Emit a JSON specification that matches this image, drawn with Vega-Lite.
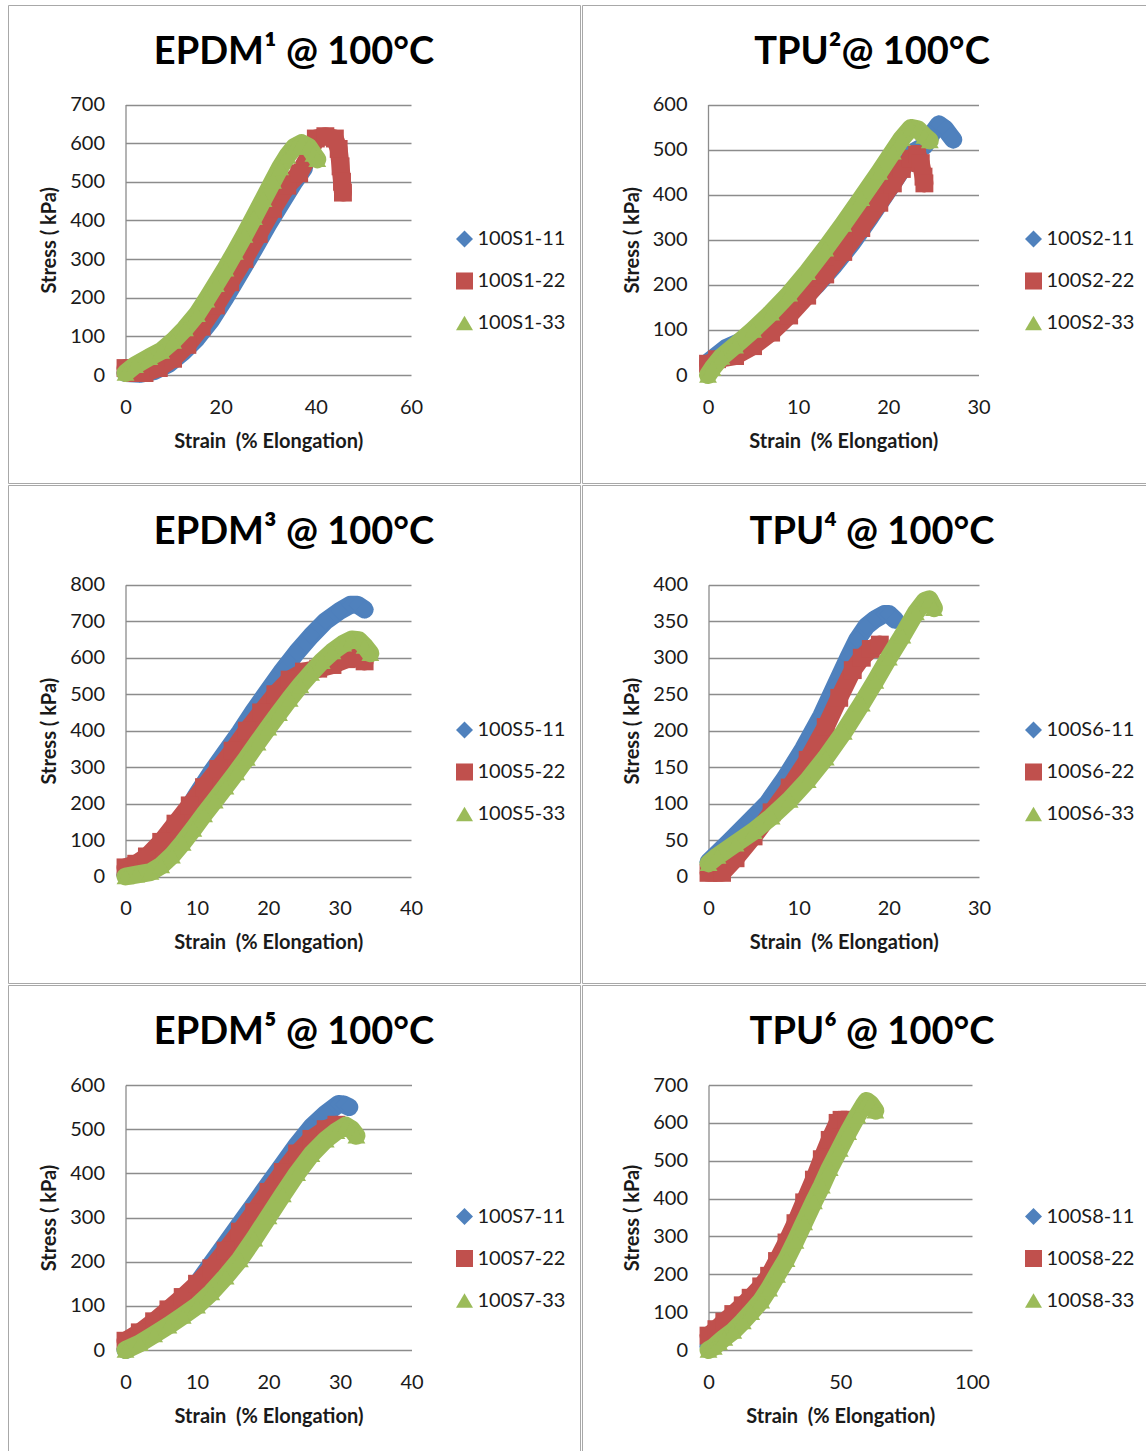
{
"$schema": "https://vega.github.io/schema/vega-lite/v6.json",
"background": "white",
"padding": {"left": 7, "top": 4, "right": 0, "bottom": 0},
"columns": 2,
"spacing": 0,
"align": "each",
"resolve": {"scale": {"x": "independent", "y": "independent", "color": "independent", "shape": "independent"}, "legend": {"color": "independent", "shape": "independent"}},
"config": {
  "view": {"stroke": "#a8a8a8", "strokeWidth": 1},
  "font": "Lato, 'Noto Sans'",
  "axis": {"labelFont": "Lato, 'Noto Sans'", "labelFontSize": 20, "labelColor": "#1a1a1a", "titleFont": "Lato, 'Noto Sans'", "titleFontSize": 20, "titleFontWeight": "bold", "titleColor": "#1a1a1a", "domainColor": "#8c8c8c", "domainWidth": 1.3, "gridColor": "#8c8c8c", "gridWidth": 1.3, "gridOpacity": 1, "ticks": false, "labelFlush": false, "labelOverlap": false, "labelBound": false},
  "axisX": {"domain": false, "grid": false, "labelPadding": 22, "titlePadding": 14},
  "axisY": {"domain": true, "grid": true, "labelPadding": 21, "titlePadding": 10},
  "title": {"font": "Lato, 'Noto Sans'", "fontSize": 38, "fontWeight": "bold", "color": "#000000", "anchor": "middle", "offset": -67, "baseline": "alphabetic"},
  "legend": {"labelFont": "Lato, 'Noto Sans'", "labelFontSize": 20, "labelColor": "#1a1a1a", "symbolSize": 290, "symbolStrokeWidth": 0, "symbolOpacity": 1, "rowPadding": 22, "labelOffset": 3, "padding": 0},
  "point": {"filled": true, "opacity": 1, "size": 320, "strokeWidth": 0},
  "line": {"strokeWidth": 18, "strokeCap": "round", "strokeJoin": "round"}
},
"concat": [
{
  "width": 572, "height": 478,
  "title": {"text": "EPDM¹ @ 100°C"},
  "data": {"values": [
    {"s":"100S1-11","x":0,"y":5},{"s":"100S1-11","x":3,"y":3},{"s":"100S1-11","x":6,"y":10},{"s":"100S1-11","x":9,"y":28},{"s":"100S1-11","x":12,"y":58},{"s":"100S1-11","x":15,"y":95},{"s":"100S1-11","x":18,"y":142},{"s":"100S1-11","x":21,"y":200},{"s":"100S1-11","x":24,"y":262},{"s":"100S1-11","x":27,"y":325},{"s":"100S1-11","x":30,"y":390},{"s":"100S1-11","x":33,"y":450},{"s":"100S1-11","x":35.5,"y":500},{"s":"100S1-11","x":37.5,"y":535},
    {"s":"100S1-22","x":0,"y":18},{"s":"100S1-22","x":1.5,"y":5},{"s":"100S1-22","x":4,"y":5},{"s":"100S1-22","x":7,"y":18},{"s":"100S1-22","x":10,"y":42},{"s":"100S1-22","x":13,"y":78},{"s":"100S1-22","x":16,"y":125},{"s":"100S1-22","x":19,"y":180},{"s":"100S1-22","x":22,"y":240},{"s":"100S1-22","x":25,"y":300},{"s":"100S1-22","x":28,"y":365},{"s":"100S1-22","x":31,"y":430},{"s":"100S1-22","x":34,"y":490},{"s":"100S1-22","x":36.5,"y":522},{"s":"100S1-22","x":38.5,"y":566},{"s":"100S1-22","x":40,"y":612},{"s":"100S1-22","x":42,"y":618},{"s":"100S1-22","x":44,"y":612},{"s":"100S1-22","x":44.8,"y":585},{"s":"100S1-22","x":45.2,"y":540},{"s":"100S1-22","x":45.5,"y":500},{"s":"100S1-22","x":45.7,"y":472},
    {"s":"100S1-33","x":0,"y":5},{"s":"100S1-33","x":2,"y":25},{"s":"100S1-33","x":5,"y":46},{"s":"100S1-33","x":7.5,"y":62},{"s":"100S1-33","x":10,"y":88},{"s":"100S1-33","x":12.5,"y":120},{"s":"100S1-33","x":15,"y":157},{"s":"100S1-33","x":17,"y":195},{"s":"100S1-33","x":19,"y":235},{"s":"100S1-33","x":21,"y":275},{"s":"100S1-33","x":23,"y":318},{"s":"100S1-33","x":25,"y":362},{"s":"100S1-33","x":27,"y":408},{"s":"100S1-33","x":29,"y":455},{"s":"100S1-33","x":31,"y":502},{"s":"100S1-33","x":32.5,"y":537},{"s":"100S1-33","x":34,"y":567},{"s":"100S1-33","x":35.5,"y":590},{"s":"100S1-33","x":37,"y":600},{"s":"100S1-33","x":38.5,"y":590},{"s":"100S1-33","x":39.5,"y":572},{"s":"100S1-33","x":40.3,"y":558}
  ]},
  "encoding": {
    "x": {"field": "x", "type": "quantitative", "scale": {"domain": [0, 60], "range": [117.5, 403], "nice": false, "zero": false}, "axis": {"values": [0, 20, 40, 60], "offset": -108, "title": "Strain \u00a0(% Elongation)"}},
    "y": {"field": "y", "type": "quantitative", "scale": {"domain": [0, 700], "range": [370, 99.5], "nice": false, "zero": false}, "axis": {"values": [0, 100, 200, 300, 400, 500, 600, 700], "offset": -117.5, "title": "Stress ( kPa)"}}
  },
  "layer": [
    {"transform": [{"filter": "datum.s === '100S1-11'"}], "mark": {"type": "line", "color": "#4F81BD"}, "encoding": {}},
    {"transform": [{"filter": "datum.s === '100S1-11'"}], "mark": "point", "encoding": {"color": {"field": "s", "type": "nominal", "scale": {"domain": ["100S1-11", "100S1-22", "100S1-33"], "range": ["#4F81BD", "#C0504D", "#9BBB59"]}, "legend": {"orient": "none", "title": null, "legendX": 446.5, "legendY": 224}}, "shape": {"field": "s", "type": "nominal", "scale": {"domain": ["100S1-11", "100S1-22", "100S1-33"], "range": ["diamond", "square", "triangle-up"]}, "legend": {"orient": "none", "title": null, "legendX": 446.5, "legendY": 224}}}},
    {"transform": [{"filter": "datum.s === '100S1-22'"}], "mark": {"type": "line", "color": "#C0504D"}, "encoding": {}},
    {"transform": [{"filter": "datum.s === '100S1-22'"}], "mark": "point", "encoding": {"color": {"field": "s", "type": "nominal"}, "shape": {"field": "s", "type": "nominal"}}},
    {"transform": [{"filter": "datum.s === '100S1-33'"}], "mark": {"type": "line", "color": "#9BBB59"}, "encoding": {}},
    {"transform": [{"filter": "datum.s === '100S1-33'"}], "mark": "point", "encoding": {"color": {"field": "s", "type": "nominal"}, "shape": {"field": "s", "type": "nominal"}}}
  ]
},
{
  "width": 564, "height": 478,
  "title": {"text": "TPU²@ 100°C", "dx": 8},
  "data": {"values": [
    {"s":"100S2-11","x":0,"y":28},{"s":"100S2-11","x":2,"y":60},{"s":"100S2-11","x":4,"y":78},{"s":"100S2-11","x":6,"y":100},{"s":"100S2-11","x":8,"y":125},{"s":"100S2-11","x":10,"y":158},{"s":"100S2-11","x":12,"y":198},{"s":"100S2-11","x":14,"y":243},{"s":"100S2-11","x":16,"y":293},{"s":"100S2-11","x":18,"y":350},{"s":"100S2-11","x":20,"y":410},{"s":"100S2-11","x":21.5,"y":455},{"s":"100S2-11","x":22.8,"y":495},{"s":"100S2-11","x":24,"y":508},{"s":"100S2-11","x":25,"y":540},{"s":"100S2-11","x":25.6,"y":556},{"s":"100S2-11","x":26.3,"y":546},{"s":"100S2-11","x":26.9,"y":530},{"s":"100S2-11","x":27.2,"y":522},
    {"s":"100S2-22","x":0,"y":25},{"s":"100S2-22","x":1,"y":35},{"s":"100S2-22","x":3,"y":42},{"s":"100S2-22","x":5,"y":64},{"s":"100S2-22","x":7,"y":94},{"s":"100S2-22","x":9,"y":132},{"s":"100S2-22","x":11,"y":176},{"s":"100S2-22","x":13,"y":223},{"s":"100S2-22","x":15,"y":273},{"s":"100S2-22","x":17,"y":326},{"s":"100S2-22","x":19,"y":382},{"s":"100S2-22","x":20.5,"y":425},{"s":"100S2-22","x":21.5,"y":457},{"s":"100S2-22","x":22.5,"y":480},{"s":"100S2-22","x":23.2,"y":490},{"s":"100S2-22","x":23.6,"y":470},{"s":"100S2-22","x":23.9,"y":440},{"s":"100S2-22","x":24,"y":425},
    {"s":"100S2-33","x":0,"y":0},{"s":"100S2-33","x":0.5,"y":15},{"s":"100S2-33","x":1.5,"y":40},{"s":"100S2-33","x":3,"y":65},{"s":"100S2-33","x":5,"y":100},{"s":"100S2-33","x":7,"y":138},{"s":"100S2-33","x":9,"y":180},{"s":"100S2-33","x":11,"y":228},{"s":"100S2-33","x":13,"y":280},{"s":"100S2-33","x":15,"y":335},{"s":"100S2-33","x":17,"y":392},{"s":"100S2-33","x":19,"y":450},{"s":"100S2-33","x":20.5,"y":495},{"s":"100S2-33","x":21.5,"y":525},{"s":"100S2-33","x":22.5,"y":548},{"s":"100S2-33","x":23.3,"y":545},{"s":"100S2-33","x":24,"y":530},{"s":"100S2-33","x":24.6,"y":520}
  ]},
  "encoding": {
    "x": {"field": "x", "type": "quantitative", "scale": {"domain": [0, 30], "range": [126, 396.5], "nice": false, "zero": false}, "axis": {"values": [0, 10, 20, 30], "offset": -108, "title": "Strain \u00a0(% Elongation)"}},
    "y": {"field": "y", "type": "quantitative", "scale": {"domain": [0, 600], "range": [370, 99.5], "nice": false, "zero": false}, "axis": {"values": [0, 100, 200, 300, 400, 500, 600], "offset": -126, "title": "Stress ( kPa)"}}
  },
  "layer": [
    {"transform": [{"filter": "datum.s === '100S2-11'"}], "mark": {"type": "line", "color": "#4F81BD"}, "encoding": {}},
    {"transform": [{"filter": "datum.s === '100S2-11'"}], "mark": "point", "encoding": {"color": {"field": "s", "type": "nominal", "scale": {"domain": ["100S2-11", "100S2-22", "100S2-33"], "range": ["#4F81BD", "#C0504D", "#9BBB59"]}, "legend": {"orient": "none", "title": null, "legendX": 441.5, "legendY": 224}}, "shape": {"field": "s", "type": "nominal", "scale": {"domain": ["100S2-11", "100S2-22", "100S2-33"], "range": ["diamond", "square", "triangle-up"]}, "legend": {"orient": "none", "title": null, "legendX": 441.5, "legendY": 224}}}},
    {"transform": [{"filter": "datum.s === '100S2-22'"}], "mark": {"type": "line", "color": "#C0504D"}, "encoding": {}},
    {"transform": [{"filter": "datum.s === '100S2-22'"}], "mark": "point", "encoding": {"color": {"field": "s", "type": "nominal"}, "shape": {"field": "s", "type": "nominal"}}},
    {"transform": [{"filter": "datum.s === '100S2-33'"}], "mark": {"type": "line", "color": "#9BBB59"}, "encoding": {}},
    {"transform": [{"filter": "datum.s === '100S2-33'"}], "mark": "point", "encoding": {"color": {"field": "s", "type": "nominal"}, "shape": {"field": "s", "type": "nominal"}}}
  ]
},
{
  "width": 572, "height": 498,
  "title": {"text": "EPDM³ @ 100°C"},
  "data": {"values": [
    {"s":"100S5-11","x":0,"y":5},{"s":"100S5-11","x":2,"y":15},{"s":"100S5-11","x":4,"y":40},{"s":"100S5-11","x":6,"y":95},{"s":"100S5-11","x":8,"y":160},{"s":"100S5-11","x":10,"y":225},{"s":"100S5-11","x":12,"y":285},{"s":"100S5-11","x":14,"y":340},{"s":"100S5-11","x":16,"y":395},{"s":"100S5-11","x":18,"y":455},{"s":"100S5-11","x":20,"y":510},{"s":"100S5-11","x":22,"y":565},{"s":"100S5-11","x":24,"y":615},{"s":"100S5-11","x":26,"y":660},{"s":"100S5-11","x":28,"y":700},{"s":"100S5-11","x":30,"y":728},{"s":"100S5-11","x":31.5,"y":745},{"s":"100S5-11","x":32.5,"y":745},{"s":"100S5-11","x":33.5,"y":732},
    {"s":"100S5-22","x":0,"y":25},{"s":"100S5-22","x":1.5,"y":35},{"s":"100S5-22","x":3,"y":55},{"s":"100S5-22","x":5,"y":95},{"s":"100S5-22","x":7,"y":145},{"s":"100S5-22","x":9,"y":195},{"s":"100S5-22","x":11,"y":245},{"s":"100S5-22","x":13,"y":295},{"s":"100S5-22","x":15,"y":345},{"s":"100S5-22","x":17,"y":400},{"s":"100S5-22","x":19,"y":450},{"s":"100S5-22","x":21,"y":500},{"s":"100S5-22","x":23,"y":540},{"s":"100S5-22","x":25,"y":562},{"s":"100S5-22","x":27,"y":570},{"s":"100S5-22","x":29,"y":580},{"s":"100S5-22","x":31,"y":596},{"s":"100S5-22","x":32.5,"y":600},{"s":"100S5-22","x":33.5,"y":590},
    {"s":"100S5-33","x":0,"y":0},{"s":"100S5-33","x":1.5,"y":5},{"s":"100S5-33","x":3.5,"y":12},{"s":"100S5-33","x":5,"y":30},{"s":"100S5-33","x":6.5,"y":57},{"s":"100S5-33","x":8,"y":92},{"s":"100S5-33","x":9.5,"y":130},{"s":"100S5-33","x":11,"y":170},{"s":"100S5-33","x":12.5,"y":208},{"s":"100S5-33","x":14,"y":246},{"s":"100S5-33","x":15.5,"y":285},{"s":"100S5-33","x":17,"y":325},{"s":"100S5-33","x":18.5,"y":367},{"s":"100S5-33","x":20,"y":408},{"s":"100S5-33","x":21.5,"y":448},{"s":"100S5-33","x":23,"y":487},{"s":"100S5-33","x":24.5,"y":524},{"s":"100S5-33","x":26,"y":558},{"s":"100S5-33","x":27.5,"y":590},{"s":"100S5-33","x":29,"y":617},{"s":"100S5-33","x":30.5,"y":638},{"s":"100S5-33","x":31.7,"y":650},{"s":"100S5-33","x":32.7,"y":648},{"s":"100S5-33","x":33.5,"y":632},{"s":"100S5-33","x":34.3,"y":612}
  ]},
  "encoding": {
    "x": {"field": "x", "type": "quantitative", "scale": {"domain": [0, 40], "range": [117.5, 403], "nice": false, "zero": false}, "axis": {"values": [0, 10, 20, 30, 40], "offset": -106.5, "title": "Strain \u00a0(% Elongation)"}},
    "y": {"field": "y", "type": "quantitative", "scale": {"domain": [0, 800], "range": [391.5, 99.8], "nice": false, "zero": false}, "axis": {"values": [0, 100, 200, 300, 400, 500, 600, 700, 800], "offset": -117.5, "title": "Stress ( kPa)"}}
  },
  "layer": [
    {"transform": [{"filter": "datum.s === '100S5-11'"}], "mark": {"type": "line", "color": "#4F81BD"}, "encoding": {}},
    {"transform": [{"filter": "datum.s === '100S5-11'"}], "mark": "point", "encoding": {"color": {"field": "s", "type": "nominal", "scale": {"domain": ["100S5-11", "100S5-22", "100S5-33"], "range": ["#4F81BD", "#C0504D", "#9BBB59"]}, "legend": {"orient": "none", "title": null, "legendX": 446.5, "legendY": 235}}, "shape": {"field": "s", "type": "nominal", "scale": {"domain": ["100S5-11", "100S5-22", "100S5-33"], "range": ["diamond", "square", "triangle-up"]}, "legend": {"orient": "none", "title": null, "legendX": 446.5, "legendY": 235}}}},
    {"transform": [{"filter": "datum.s === '100S5-22'"}], "mark": {"type": "line", "color": "#C0504D"}, "encoding": {}},
    {"transform": [{"filter": "datum.s === '100S5-22'"}], "mark": "point", "encoding": {"color": {"field": "s", "type": "nominal"}, "shape": {"field": "s", "type": "nominal"}}},
    {"transform": [{"filter": "datum.s === '100S5-33'"}], "mark": {"type": "line", "color": "#9BBB59"}, "encoding": {}},
    {"transform": [{"filter": "datum.s === '100S5-33'"}], "mark": "point", "encoding": {"color": {"field": "s", "type": "nominal"}, "shape": {"field": "s", "type": "nominal"}}}
  ]
},
{
  "width": 564, "height": 498,
  "title": {"text": "TPU⁴ @ 100°C", "dx": 8},
  "data": {"values": [
    {"s":"100S6-11","x":0,"y":20},{"s":"100S6-11","x":1,"y":32},{"s":"100S6-11","x":2.5,"y":50},{"s":"100S6-11","x":4.5,"y":75},{"s":"100S6-11","x":6.5,"y":100},{"s":"100S6-11","x":8.5,"y":135},{"s":"100S6-11","x":10.5,"y":175},{"s":"100S6-11","x":12.5,"y":220},{"s":"100S6-11","x":14,"y":260},{"s":"100S6-11","x":15.5,"y":300},{"s":"100S6-11","x":16.5,"y":325},{"s":"100S6-11","x":17.5,"y":343},{"s":"100S6-11","x":18.5,"y":353},{"s":"100S6-11","x":19.5,"y":360},{"s":"100S6-11","x":20,"y":360},{"s":"100S6-11","x":20.7,"y":352},
    {"s":"100S6-22","x":0,"y":5},{"s":"100S6-22","x":1.5,"y":5},{"s":"100S6-22","x":3,"y":25},{"s":"100S6-22","x":5,"y":55},{"s":"100S6-22","x":7,"y":88},{"s":"100S6-22","x":9,"y":122},{"s":"100S6-22","x":11,"y":160},{"s":"100S6-22","x":13,"y":205},{"s":"100S6-22","x":14.5,"y":245},{"s":"100S6-22","x":16,"y":283},{"s":"100S6-22","x":17,"y":300},{"s":"100S6-22","x":18,"y":312},{"s":"100S6-22","x":19,"y":318},
    {"s":"100S6-33","x":0,"y":18},{"s":"100S6-33","x":1,"y":28},{"s":"100S6-33","x":3,"y":45},{"s":"100S6-33","x":5,"y":62},{"s":"100S6-33","x":7,"y":82},{"s":"100S6-33","x":9,"y":105},{"s":"100S6-33","x":11,"y":132},{"s":"100S6-33","x":13,"y":163},{"s":"100S6-33","x":15,"y":198},{"s":"100S6-33","x":17,"y":237},{"s":"100S6-33","x":18.5,"y":268},{"s":"100S6-33","x":20,"y":300},{"s":"100S6-33","x":21.5,"y":330},{"s":"100S6-33","x":23,"y":362},{"s":"100S6-33","x":24,"y":378},{"s":"100S6-33","x":24.5,"y":380},{"s":"100S6-33","x":25,"y":368}
  ]},
  "encoding": {
    "x": {"field": "x", "type": "quantitative", "scale": {"domain": [0, 30], "range": [126.5, 397], "nice": false, "zero": false}, "axis": {"values": [0, 10, 20, 30], "offset": -106.5, "title": "Strain \u00a0(% Elongation)"}},
    "y": {"field": "y", "type": "quantitative", "scale": {"domain": [0, 400], "range": [391.5, 99.8], "nice": false, "zero": false}, "axis": {"values": [0, 50, 100, 150, 200, 250, 300, 350, 400], "offset": -126.5, "title": "Stress ( kPa)"}}
  },
  "layer": [
    {"transform": [{"filter": "datum.s === '100S6-11'"}], "mark": {"type": "line", "color": "#4F81BD"}, "encoding": {}},
    {"transform": [{"filter": "datum.s === '100S6-11'"}], "mark": "point", "encoding": {"color": {"field": "s", "type": "nominal", "scale": {"domain": ["100S6-11", "100S6-22", "100S6-33"], "range": ["#4F81BD", "#C0504D", "#9BBB59"]}, "legend": {"orient": "none", "title": null, "legendX": 441.5, "legendY": 235}}, "shape": {"field": "s", "type": "nominal", "scale": {"domain": ["100S6-11", "100S6-22", "100S6-33"], "range": ["diamond", "square", "triangle-up"]}, "legend": {"orient": "none", "title": null, "legendX": 441.5, "legendY": 235}}}},
    {"transform": [{"filter": "datum.s === '100S6-22'"}], "mark": {"type": "line", "color": "#C0504D"}, "encoding": {}},
    {"transform": [{"filter": "datum.s === '100S6-22'"}], "mark": "point", "encoding": {"color": {"field": "s", "type": "nominal"}, "shape": {"field": "s", "type": "nominal"}}},
    {"transform": [{"filter": "datum.s === '100S6-33'"}], "mark": {"type": "line", "color": "#9BBB59"}, "encoding": {}},
    {"transform": [{"filter": "datum.s === '100S6-33'"}], "mark": "point", "encoding": {"color": {"field": "s", "type": "nominal"}, "shape": {"field": "s", "type": "nominal"}}}
  ]
},
{
  "width": 572, "height": 466,
  "title": {"text": "EPDM⁵ @ 100°C"},
  "data": {"values": [
    {"s":"100S7-11","x":0,"y":0},{"s":"100S7-11","x":2,"y":20},{"s":"100S7-11","x":4,"y":45},{"s":"100S7-11","x":6,"y":75},{"s":"100S7-11","x":8,"y":110},{"s":"100S7-11","x":10,"y":150},{"s":"100S7-11","x":12,"y":195},{"s":"100S7-11","x":14,"y":240},{"s":"100S7-11","x":16,"y":285},{"s":"100S7-11","x":18,"y":330},{"s":"100S7-11","x":20,"y":375},{"s":"100S7-11","x":22,"y":420},{"s":"100S7-11","x":24,"y":465},{"s":"100S7-11","x":26,"y":505},{"s":"100S7-11","x":28,"y":535},{"s":"100S7-11","x":29.8,"y":557},{"s":"100S7-11","x":30.5,"y":556},{"s":"100S7-11","x":31.3,"y":550},
    {"s":"100S7-22","x":0,"y":21},{"s":"100S7-22","x":2,"y":40},{"s":"100S7-22","x":4,"y":65},{"s":"100S7-22","x":6,"y":92},{"s":"100S7-22","x":8,"y":120},{"s":"100S7-22","x":10,"y":150},{"s":"100S7-22","x":12,"y":185},{"s":"100S7-22","x":14,"y":225},{"s":"100S7-22","x":16,"y":268},{"s":"100S7-22","x":18,"y":312},{"s":"100S7-22","x":20,"y":358},{"s":"100S7-22","x":22,"y":403},{"s":"100S7-22","x":24,"y":445},{"s":"100S7-22","x":26,"y":478},{"s":"100S7-22","x":28,"y":500},{"s":"100S7-22","x":29.5,"y":510},
    {"s":"100S7-33","x":0,"y":0},{"s":"100S7-33","x":2,"y":15},{"s":"100S7-33","x":4,"y":35},{"s":"100S7-33","x":6,"y":55},{"s":"100S7-33","x":8,"y":77},{"s":"100S7-33","x":10,"y":100},{"s":"100S7-33","x":12,"y":130},{"s":"100S7-33","x":14,"y":166},{"s":"100S7-33","x":16,"y":205},{"s":"100S7-33","x":18,"y":252},{"s":"100S7-33","x":20,"y":302},{"s":"100S7-33","x":22,"y":352},{"s":"100S7-33","x":24,"y":400},{"s":"100S7-33","x":26,"y":443},{"s":"100S7-33","x":28,"y":476},{"s":"100S7-33","x":29.5,"y":495},{"s":"100S7-33","x":30.8,"y":508},{"s":"100S7-33","x":31.6,"y":500},{"s":"100S7-33","x":32.3,"y":485}
  ]},
  "encoding": {
    "x": {"field": "x", "type": "quantitative", "scale": {"domain": [0, 40], "range": [117.5, 403.5], "nice": false, "zero": false}, "axis": {"values": [0, 10, 20, 30, 40], "offset": -101, "title": "Strain \u00a0(% Elongation)"}},
    "y": {"field": "y", "type": "quantitative", "scale": {"domain": [0, 600], "range": [365, 100], "nice": false, "zero": false}, "axis": {"values": [0, 100, 200, 300, 400, 500, 600], "offset": -117.5, "title": "Stress ( kPa)"}}
  },
  "layer": [
    {"transform": [{"filter": "datum.s === '100S7-11'"}], "mark": {"type": "line", "color": "#4F81BD"}, "encoding": {}},
    {"transform": [{"filter": "datum.s === '100S7-11'"}], "mark": "point", "encoding": {"color": {"field": "s", "type": "nominal", "scale": {"domain": ["100S7-11", "100S7-22", "100S7-33"], "range": ["#4F81BD", "#C0504D", "#9BBB59"]}, "legend": {"orient": "none", "title": null, "legendX": 446.5, "legendY": 221.5}}, "shape": {"field": "s", "type": "nominal", "scale": {"domain": ["100S7-11", "100S7-22", "100S7-33"], "range": ["diamond", "square", "triangle-up"]}, "legend": {"orient": "none", "title": null, "legendX": 446.5, "legendY": 221.5}}}},
    {"transform": [{"filter": "datum.s === '100S7-22'"}], "mark": {"type": "line", "color": "#C0504D"}, "encoding": {}},
    {"transform": [{"filter": "datum.s === '100S7-22'"}], "mark": "point", "encoding": {"color": {"field": "s", "type": "nominal"}, "shape": {"field": "s", "type": "nominal"}}},
    {"transform": [{"filter": "datum.s === '100S7-33'"}], "mark": {"type": "line", "color": "#9BBB59"}, "encoding": {}},
    {"transform": [{"filter": "datum.s === '100S7-33'"}], "mark": "point", "encoding": {"color": {"field": "s", "type": "nominal"}, "shape": {"field": "s", "type": "nominal"}}}
  ]
},
{
  "width": 564, "height": 466,
  "title": {"text": "TPU⁶ @ 100°C", "dx": 8},
  "data": {"values": [
    {"s":"100S8-11","x":0,"y":10},{"s":"100S8-11","x":4,"y":25},{"s":"100S8-11","x":9,"y":62},{"s":"100S8-11","x":16,"y":115},{"s":"100S8-11","x":23,"y":178},{"s":"100S8-11","x":29.6,"y":260},{"s":"100S8-11","x":36.3,"y":360},{"s":"100S8-11","x":43,"y":465},{"s":"100S8-11","x":48,"y":530},
    {"s":"100S8-22","x":0,"y":38},{"s":"100S8-22","x":3,"y":55},{"s":"100S8-22","x":6,"y":75},{"s":"100S8-22","x":9.4,"y":95},{"s":"100S8-22","x":13,"y":118},{"s":"100S8-22","x":16,"y":138},{"s":"100S8-22","x":20,"y":168},{"s":"100S8-22","x":23,"y":196},{"s":"100S8-22","x":26,"y":235},{"s":"100S8-22","x":29.6,"y":284},{"s":"100S8-22","x":33,"y":335},{"s":"100S8-22","x":36.3,"y":390},{"s":"100S8-22","x":40,"y":450},{"s":"100S8-22","x":43,"y":504},{"s":"100S8-22","x":46,"y":555},{"s":"100S8-22","x":49,"y":600},{"s":"100S8-22","x":50.5,"y":608},{"s":"100S8-22","x":52.5,"y":608},
    {"s":"100S8-33","x":0,"y":0},{"s":"100S8-33","x":2,"y":8},{"s":"100S8-33","x":4,"y":20},{"s":"100S8-33","x":6,"y":32},{"s":"100S8-33","x":9.4,"y":50},{"s":"100S8-33","x":13,"y":75},{"s":"100S8-33","x":16.2,"y":100},{"s":"100S8-33","x":20,"y":130},{"s":"100S8-33","x":23,"y":162},{"s":"100S8-33","x":26,"y":198},{"s":"100S8-33","x":29.6,"y":240},{"s":"100S8-33","x":33,"y":288},{"s":"100S8-33","x":36.3,"y":337},{"s":"100S8-33","x":40,"y":392},{"s":"100S8-33","x":43,"y":434},{"s":"100S8-33","x":46,"y":480},{"s":"100S8-33","x":49.8,"y":531},{"s":"100S8-33","x":53,"y":575},{"s":"100S8-33","x":56.5,"y":619},{"s":"100S8-33","x":59,"y":648},{"s":"100S8-33","x":60,"y":658},{"s":"100S8-33","x":61.5,"y":650},{"s":"100S8-33","x":63.3,"y":632}
  ]},
  "encoding": {
    "x": {"field": "x", "type": "quantitative", "scale": {"domain": [0, 100], "range": [126.5, 390], "nice": false, "zero": false}, "axis": {"values": [0, 50, 100], "offset": -101, "title": "Strain \u00a0(% Elongation)"}},
    "y": {"field": "y", "type": "quantitative", "scale": {"domain": [0, 700], "range": [365, 100], "nice": false, "zero": false}, "axis": {"values": [0, 100, 200, 300, 400, 500, 600, 700], "offset": -126.5, "title": "Stress ( kPa)"}}
  },
  "layer": [
    {"transform": [{"filter": "datum.s === '100S8-11'"}], "mark": {"type": "line", "color": "#4F81BD"}, "encoding": {}},
    {"transform": [{"filter": "datum.s === '100S8-11'"}], "mark": "point", "encoding": {"color": {"field": "s", "type": "nominal", "scale": {"domain": ["100S8-11", "100S8-22", "100S8-33"], "range": ["#4F81BD", "#C0504D", "#9BBB59"]}, "legend": {"orient": "none", "title": null, "legendX": 441.5, "legendY": 221.5}}, "shape": {"field": "s", "type": "nominal", "scale": {"domain": ["100S8-11", "100S8-22", "100S8-33"], "range": ["diamond", "square", "triangle-up"]}, "legend": {"orient": "none", "title": null, "legendX": 441.5, "legendY": 221.5}}}},
    {"transform": [{"filter": "datum.s === '100S8-22'"}], "mark": {"type": "line", "color": "#C0504D"}, "encoding": {}},
    {"transform": [{"filter": "datum.s === '100S8-22'"}], "mark": "point", "encoding": {"color": {"field": "s", "type": "nominal"}, "shape": {"field": "s", "type": "nominal"}}},
    {"transform": [{"filter": "datum.s === '100S8-33'"}], "mark": {"type": "line", "color": "#9BBB59"}, "encoding": {}},
    {"transform": [{"filter": "datum.s === '100S8-33'"}], "mark": "point", "encoding": {"color": {"field": "s", "type": "nominal"}, "shape": {"field": "s", "type": "nominal"}}}
  ]
}
]
}
